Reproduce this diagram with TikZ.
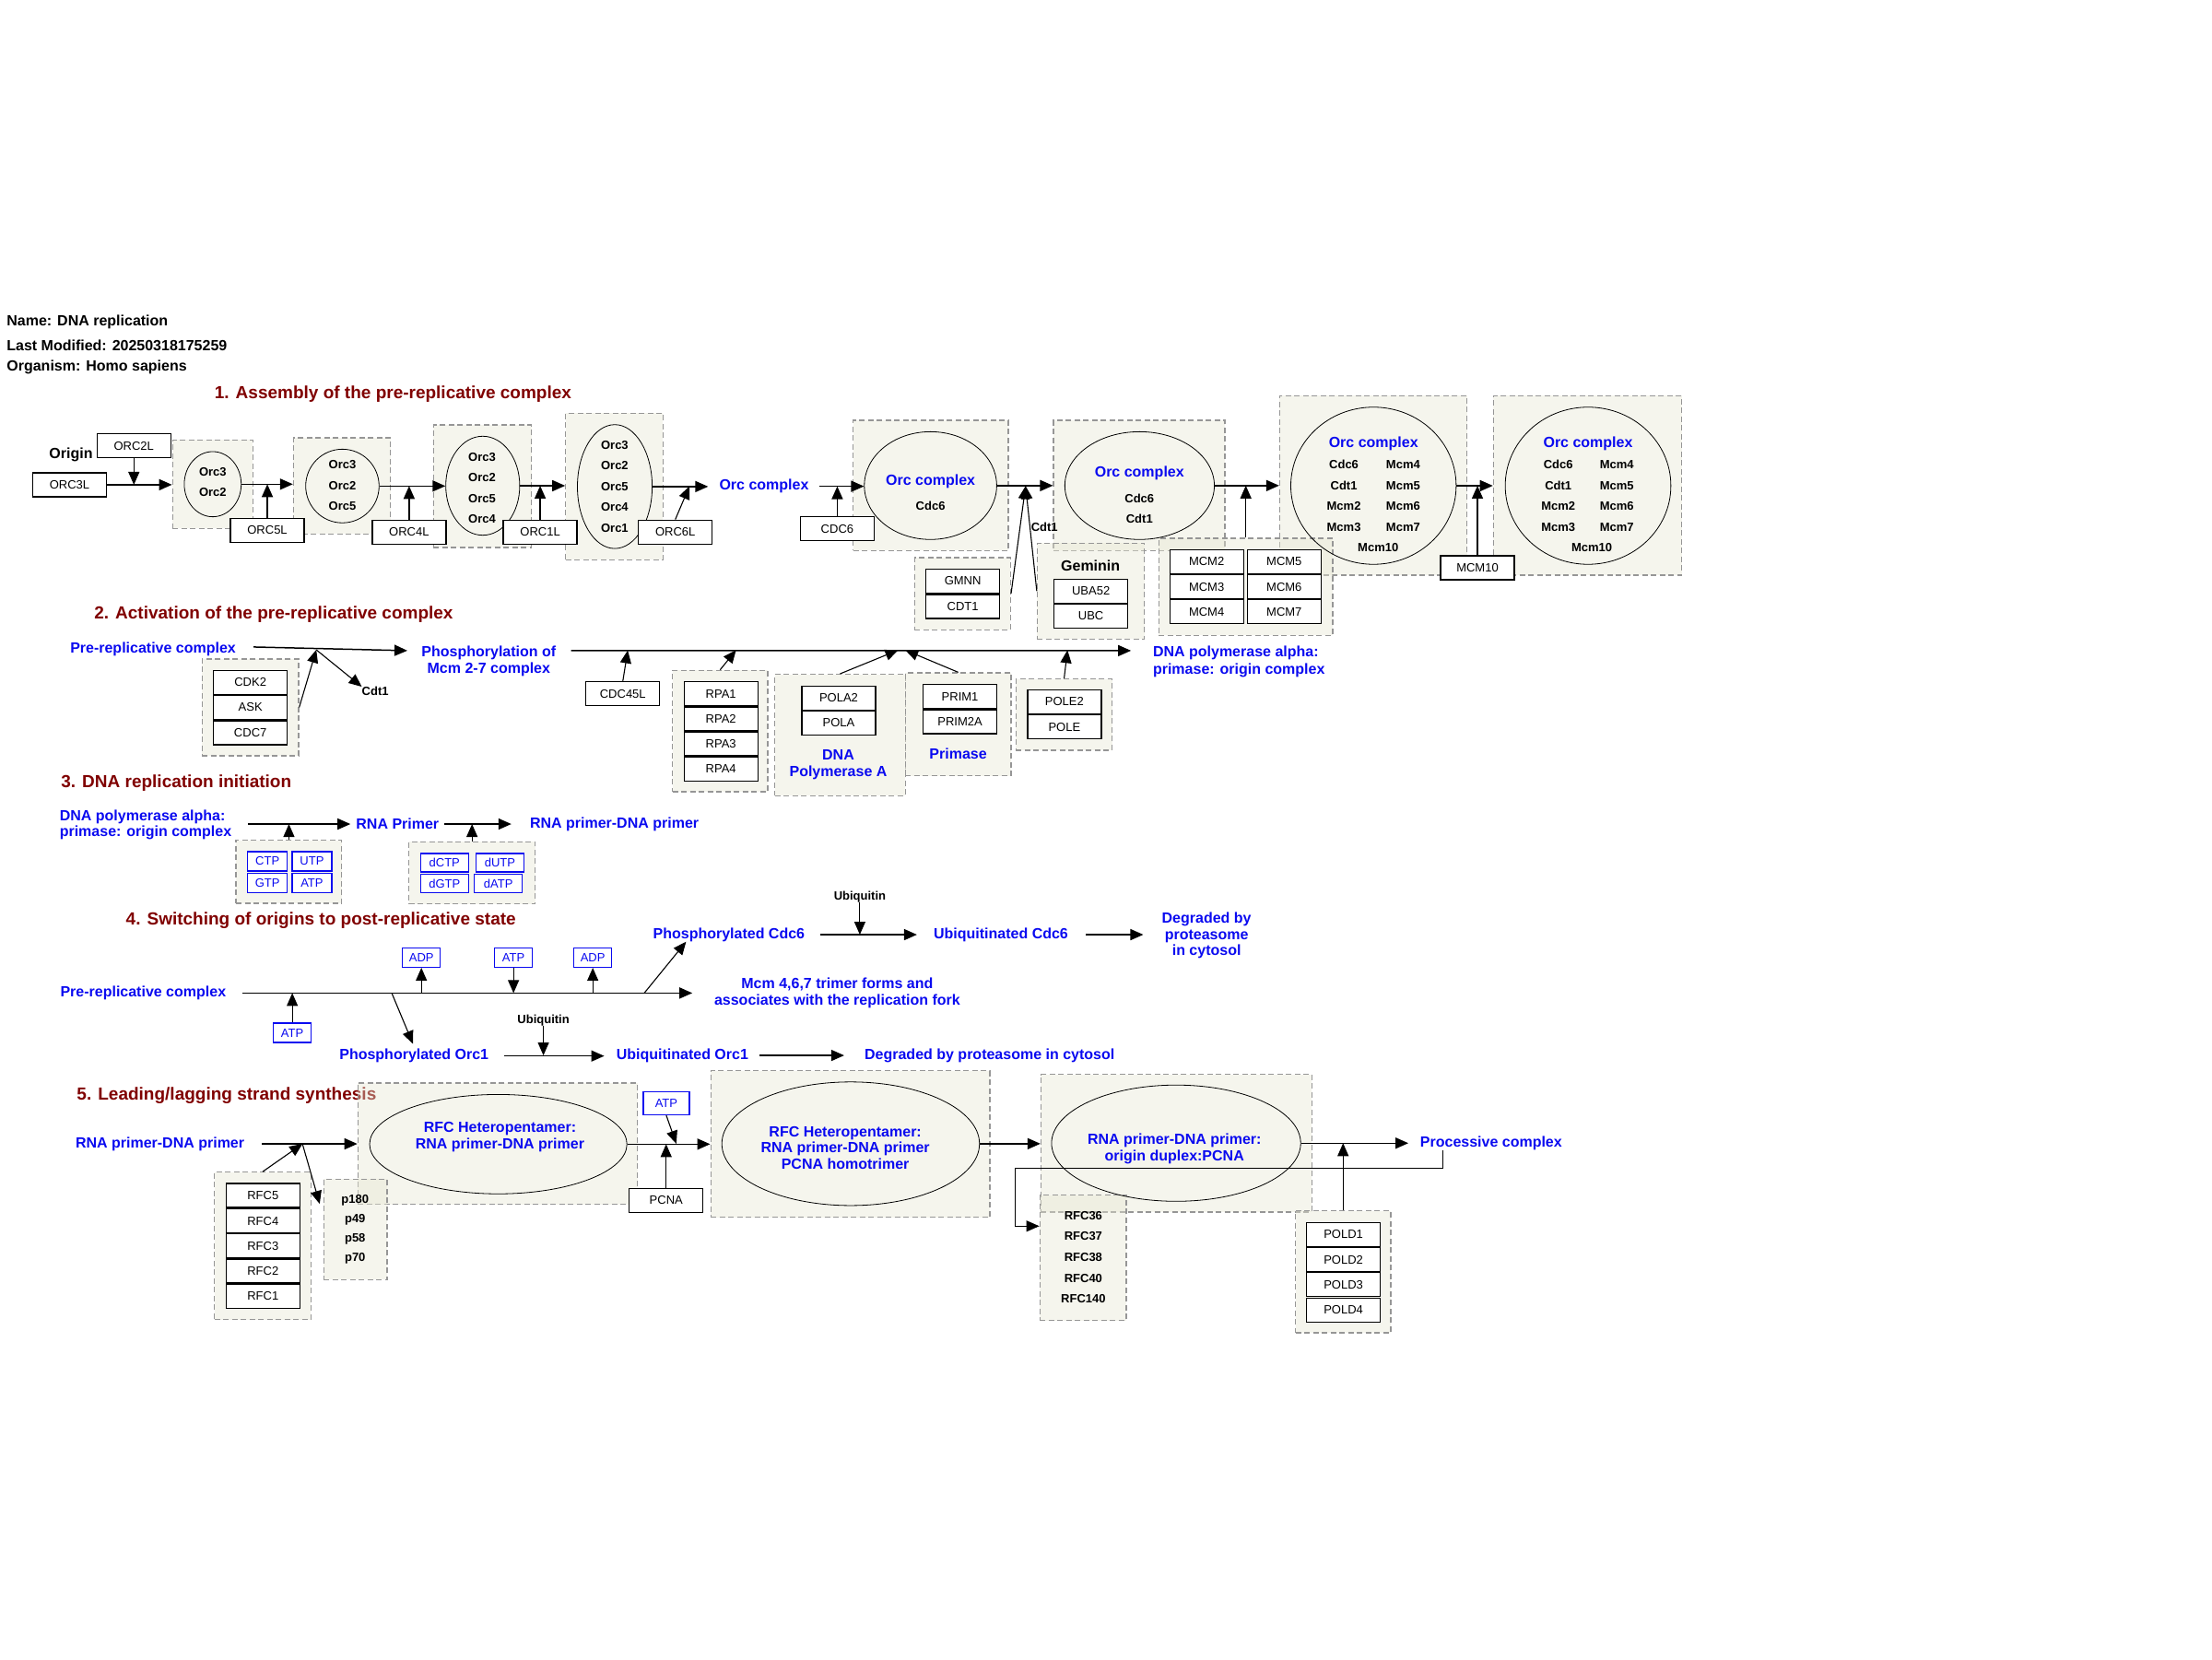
\documentclass[tikz,border=0pt]{standalone}
\usepackage{fontspec}
\setmainfont{Liberation Sans}
\usetikzlibrary{arrows.meta,shapes.geometric,fit,calc}
\definecolor{secred}{RGB}{128,0,0}
\definecolor{lblue}{RGB}{10,10,240}
\definecolor{grpfill}{RGB}{230,230,210}
\definecolor{grpline}{RGB}{150,150,150}
\begin{document}
\begin{tikzpicture}[x=1.5306pt,y=-1.5306pt,
 arr/.style={-{Triangle[length=14pt,width=12pt]},line width=1.5pt},
 carr/.style={-{Triangle[length=14pt,width=12pt]},line width=1.1pt},
 grp/.style={draw=grpline,dash pattern=on 6pt off 3.5pt,line width=1.2pt,fill=grpfill,fill opacity=0.4,inner sep=0pt},
 ell/.style={ellipse,draw,line width=0.8pt,inner sep=0pt},
 gene/.style={draw,fill=white,line width=1.3pt,minimum width=80pt,minimum height=26pt,inner sep=0pt,font=\fontsize{13}{15}\selectfont},
 nbox/.style={draw=lblue,fill=white,text=lblue,line width=1.3pt,minimum width=43pt,minimum height=21pt,inner sep=0pt,font=\fontsize{13}{15}\selectfont},
 lab/.style={text=lblue,font=\fontsize{16}{18.4}\selectfont\bfseries,inner sep=0pt,align=center},
 sml/.style={font=\fontsize{13}{22.5}\selectfont\bfseries,inner sep=0pt,align=center},
 sec/.style={text=secred,font=\fontsize{19}{22}\selectfont\bfseries,anchor=west,inner sep=0pt},
 hdr/.style={font=\fontsize{16}{19}\selectfont\bfseries,anchor=west,inner sep=0pt}]
\fill[white] (0,0) rectangle (1568,1176);
\useasboundingbox (0,0) rectangle (1568,1176);

% ---------- header and section titles
\node[hdr] (h1) at (4.7,228.2) {Name: DNA replication};
\node[hdr] (h2) at (4.7,244.6) {Last Modified: 20250318175259};
\node[hdr] (h3) at (4.7,260.2) {Organism: Homo sapiens};
\node[sec] (s1) at (152,279.2) {1. Assembly of the pre-replicative complex};
\node[sec] (s2) at (66.7,435.5) {2. Activation of the pre-replicative complex};
\node[sec] (s3) at (43.2,554.9) {3. DNA replication initiation};
\node[sec] (s4) at (89.2,652.2) {4. Switching of origins to post-replicative state};
\node[sec] (s5) at (54.4,776.4) {5. Leading/lagging strand synthesis};

% ---------- dashed groups
\node[grp,fit={(122.3,311.9)(179.3,374.6)}] (g1) {};
\node[grp,fit={(208,310.3)(276.7,378.5)}] (g2) {};
\node[grp,fit={(307.3,301.2)(376.7,388.1)}] (g3) {};
\node[grp,fit={(401,292.9)(470,396.8)}] (g4) {};
\node[grp,fit={(604.8,297.9)(714.7,390.3)}] (g5) {};
\node[grp,fit={(648.3,395.3)(716.3,446.4)}] (ggmnn) {};
\node[grp,fit={(746.8,297.9)(868.3,390.3)}] (g6) {};
\node[grp,fit={(735.3,385)(811.3,453)}] (ggem) {};
\node[grp,fit={(907.1,280.5)(1040,407.7)}] (g7) {};
\node[grp,fit={(821.5,381.5)(944.7,450.4)}] (gmcm) {};
\node[grp,fit={(1058.6,280.5)(1192,407.7)}] (g8) {};
\node[grp,fit={(143.2,467.1)(211.7,535.7)}] (gcdk) {};
\node[grp,fit={(476.7,475.2)(544.2,561.2)}] (grpa) {};
\node[grp,fit={(549.2,478)(641.7,564)}] (gpola) {};
\node[grp,fit={(641.7,476.9)(716.7,549.9)}] (gprim) {};
\node[grp,fit={(720.2,481.3)(788.4,531.8)}] (gpole) {};
\node[grp,fit={(167.3,595.7)(242.3,640.3)}] (gntp) {};
\node[grp,fit={(289.8,596.7)(379.4,640.7)}] (gdntp) {};
\node[grp,fit={(152,830.9)(220.4,935.4)}] (grfc) {};
\node[grp,fit={(253.7,767.7)(452,853.7)}] (g9) {};
\node[grp,fit={(229.4,835.9)(274.4,907.1)}] (gp) {};
\node[grp,fit={(503.8,758.9)(701.7,862.8)}] (g10) {};
\node[grp,fit={(737.9,761.5)(930,859.1)}] (g11) {};
\node[grp,fit={(737.1,847.1)(798.3,936)}] (grfc36) {};
\node[grp,fit={(918.3,858.4)(985.8,944.7)}] (gpold) {};

% ---------- ellipses
\node[ell,minimum width=61.8pt,minimum height=70.7pt] (E1) at (150.8,343.2) {};
\node[ell,minimum width=79.6pt,minimum height=79.9pt] (E2) at (242.7,344.5) {};
\node[ell,minimum width=80.2pt,minimum height=107.4pt] (E3) at (342.2,344.3) {};
\node[ell,minimum width=81.1pt,minimum height=134.4pt] (E4) at (435.8,344.9) {};
\node[ell,minimum width=143.6pt,minimum height=116.9pt] (E5) at (659.6,344.2) {};
\node[ell,minimum width=162.2pt,minimum height=116.9pt] (E6) at (807.8,344.2) {};
\node[ell,minimum width=179.4pt,minimum height=170.5pt] (E7) at (973.6,344.3) {};
\node[ell,minimum width=179.7pt,minimum height=170.5pt] (E8) at (1125.7,344.3) {};
\node[ell,minimum width=279.2pt,minimum height=107.8pt] (E9) at (353.2,811) {};
\node[ell,minimum width=279.5pt,minimum height=134.1pt] (E10) at (603,810.7) {};
\node[ell,minimum width=270.3pt,minimum height=126.1pt] (E11) at (833.7,810.3) {};

% ---------- section 1 texts
\node[font=\fontsize{16}{18}\selectfont\bfseries,inner sep=0pt] (origin) at (50.3,322.3) {Origin};
\node[sml] (t1) at (150.8,341.6) {Orc3\\Orc2};
\node[sml] (t2) at (242.7,344.3) {Orc3\\Orc2\\Orc5};
\node[sml] (t3) at (341.7,345.8) {Orc3\\Orc2\\Orc5\\Orc4};
\node[sml] (t4) at (435.7,344.7) {Orc3\\Orc2\\Orc5\\Orc4\\Orc1};
\node[lab] (oc1) at (541.6,344.7) {Orc complex};
\node[lab] (oc5) at (659.6,341.3) {Orc complex};
\node[sml] (t5) at (659.6,358.9) {Cdc6};
\node[lab] (oc6) at (807.7,335.6) {Orc complex};
\node[sml,font=\fontsize{13}{22}\selectfont\bfseries] (t6) at (807.7,360.4) {Cdc6\\Cdt1};
\node[lab] (oc7) at (973.6,314.7) {Orc complex};
\node[sml] (t7a) at (952.6,351.5) {Cdc6\\Cdt1\\Mcm2\\Mcm3};
\node[sml] (t7b) at (994.6,351.5) {Mcm4\\Mcm5\\Mcm6\\Mcm7};
\node[sml] (t7c) at (976.9,388.1) {Mcm10};
\node[lab] (oc8) at (1125.7,314.7) {Orc complex};
\node[sml] (t8a) at (1104.6,351.5) {Cdc6\\Cdt1\\Mcm2\\Mcm3};
\node[sml] (t8b) at (1146.1,351.5) {Mcm4\\Mcm5\\Mcm6\\Mcm7};
\node[sml] (t8c) at (1128.4,388.1) {Mcm10};
\node[sml] (cdt1a) at (740.4,373.5) {Cdt1};
\node[font=\fontsize{16}{18}\selectfont\bfseries,inner sep=0pt] (gemlab) at (773,400.7) {Geminin};

% section 1 gene boxes
\node[gene] (ORC2L) at (94.9,316) {ORC2L};
\node[gene] (ORC3L) at (49.3,343.6) {ORC3L};
\node[gene] (ORC5L) at (189.5,376) {ORC5L};
\node[gene] (ORC4L) at (290,377.1) {ORC4L};
\node[gene] (ORC1L) at (382.9,377.1) {ORC1L};
\node[gene] (ORC6L) at (478.7,377.1) {ORC6L};
\node[gene] (CDC6) at (593.5,374.7) {CDC6};
\node[gene] (GMNN) at (682.5,411.9) {GMNN};
\node[gene] (CDT1) at (682.5,429.9) {CDT1};
\node[gene] (UBA52) at (773.3,419) {UBA52};
\node[gene] (UBC) at (773.3,436.7) {UBC};
\node[gene] (MCM2) at (855.3,398.2) {MCM2};
\node[gene] (MCM3) at (855.3,415.9) {MCM3};
\node[gene] (MCM4) at (855.3,433.6) {MCM4};
\node[gene] (MCM5) at (910.3,398.2) {MCM5};
\node[gene] (MCM6) at (910.3,415.9) {MCM6};
\node[gene] (MCM7) at (910.3,433.6) {MCM7};
\node[gene] (MCM10) at (1047.3,402.4) {MCM10};

% section 1 connectors
\coordinate (j6) at (727,344.5);
\draw[arr] (ORC3L.east) -- (ORC3L.east -| g1.west);
\draw[arr] (ORC2L.south) -- (ORC2L.south |- ORC3L.east);
\draw[arr] (E1.east) -- (E1.east -| g2.west);
\draw[arr] (ORC5L.north) -- (ORC5L.north |- E1.east);
\draw[arr] (E2.east) -- (E2.east -| E3.west);
\draw[arr] (ORC4L.north) -- (ORC4L.north |- E2.east);
\draw[arr] (E3.east) -- (E3.east -| g4.west);
\draw[arr] (ORC1L.north) -- (ORC1L.north |- E3.east);
\draw[arr,shorten >=12pt] (E4.east) -- (E4.east -| oc1.west);
\draw[carr] (ORC6L.north) -- ++(10,-23.5);
\draw[arr,shorten <=11pt] (oc1.east) -- (oc1.east -| E5.west);
\draw[arr] (CDC6.north) -- (CDC6.north |- oc1.east);
\draw[arr] (E5.east) -- (E5.east -| g6.west);
\draw[carr] (ggmnn.east) -- (j6);
\draw[carr] (ggem.west) -- (j6);
\draw[arr] (E6.east) -- (E6.east -| g7.west);
\draw[carr] (gmcm.north) -- (gmcm.north |- E6.east);
\draw[arr] (E7.east) -- (E7.east -| g8.west);
\draw[arr] (MCM10.north) -- (MCM10.north |- E7.east);

% ---------- section 2
\node[lab] (pre2) at (108.5,459.9) {Pre-replicative complex};
\node[lab] (phos) at (346.5,468.7) {Phosphorylation of\\Mcm 2-7 complex};
\node[lab,align=left,anchor=west] (dpa) at (817.2,469.1) {DNA polymerase alpha:\\primase: origin complex};
\node[sml] (cdt1b) at (266,490) {Cdt1};
\node[lab] (dnapa) at (594.2,542.2) {DNA\\Polymerase A};
\node[lab] (primase) at (679.2,534.2) {Primase};
\node[gene] (CDK2) at (177.5,483.7) {CDK2};
\node[gene] (ASK) at (177.5,501.4) {ASK};
\node[gene] (CDC7) at (177.5,519.3) {CDC7};
\node[gene] (CDC45L) at (441.5,491.7) {CDC45L};
\node[gene] (RPA1) at (511,491.7) {RPA1};
\node[gene] (RPA2) at (511,509.5) {RPA2};
\node[gene] (RPA3) at (511,527.2) {RPA3};
\node[gene] (RPA4) at (511,545.1) {RPA4};
\node[gene] (POLA2) at (594.5,494.7) {POLA2};
\node[gene] (POLA) at (594.5,512.5) {POLA};
\node[gene] (PRIM1) at (680.5,493.7) {PRIM1};
\node[gene] (PRIM2A) at (680.5,511.6) {PRIM2A};
\node[gene] (POLE2) at (754.5,497.5) {POLE2};
\node[gene] (POLE) at (754.5,515.3) {POLE};
\coordinate (j2) at (224.2,460.6);
\draw[arr] ($(pre2.east)+(12.5,-1.3)$) -- ($(phos.west)+(-10,-7.5)$);
\draw[carr] (gcdk.east) -- (j2);
\draw[carr] (j2) -- (cdt1b.north west);
\draw[arr] ($(phos.east)+(10.5,-7.5)$) -- ($(dpa.west)+(-15.5,-7.9)$);
\draw[carr] (CDC45L.north) -- ++(3.5,-21.8);
\draw[carr] (grpa.north) -- ++(11.3,-14);
\draw[carr] (gpola.north) -- ++(41.2,-16.8);
\draw[carr] (gprim.north) -- ++(-37.5,-15.7);
\draw[carr] (gpole.north) -- ++(2.4,-20.1);

% ---------- section 3
\node[lab,align=left,anchor=west,font=\fontsize{16}{17}\selectfont\bfseries] (dpa3) at (42.2,584.75) {DNA polymerase alpha:\\primase: origin complex};
\node[lab] (rnap) at (281.8,584.1) {RNA Primer};
\node[lab] (rdp3) at (435.5,584.1) {RNA primer-DNA primer};
\node[nbox] (CTP) at (189.6,610.5) {CTP};
\node[nbox] (UTP) at (221.1,610.5) {UTP};
\node[nbox] (GTP) at (189.6,625.8) {GTP};
\node[nbox] (ATP3) at (221.1,625.8) {ATP};
\node[nbox,minimum width=52pt,minimum height=20pt] (dCTP) at (315.1,611.5) {dCTP};
\node[nbox,minimum width=52pt,minimum height=20pt] (dUTP) at (354.4,611.5) {dUTP};
\node[nbox,minimum width=52pt,minimum height=20pt] (dGTP) at (315.1,626.4) {dGTP};
\node[nbox,minimum width=52pt,minimum height=20pt] (dATP) at (353.3,626.4) {dATP};
\draw[arr,shorten <=18pt,shorten >=6pt] (dpa3.east |- rnap.west) -- (rnap.west);
\draw[carr] (gntp.north) -- (gntp.north |- rnap.west);
\draw[arr,shorten <=6pt,shorten >=20pt] (rnap.east) -- (rdp3.west);
\draw[carr] (gdntp.north) -- (gdntp.north |- rnap.west);

% ---------- section 4
\node[lab] (pre4) at (101.5,703.9) {Pre-replicative complex};
\node[lab] (mcm) at (593.5,704) {Mcm 4,6,7 trimer forms and\\associates with the replication fork};
\node[lab] (pcdc6) at (516.7,662.5) {Phosphorylated Cdc6};
\node[lab] (ucdc6) at (709.5,662.5) {Ubiquitinated Cdc6};
\node[lab,font=\fontsize{16}{17.7}\selectfont\bfseries] (deg1) at (855.3,663.1) {Degraded by\\proteasome\\in cytosol};
\node[lab] (porc1) at (293.5,748.5) {Phosphorylated Orc1};
\node[lab] (uorc1) at (483.7,748.1) {Ubiquitinated Orc1};
\node[lab] (deg2) at (701.5,748.1) {Degraded by proteasome in cytosol};
\node[sml] (ub1) at (609.5,635.5) {Ubiquitin};
\node[sml] (ub2) at (385.2,723) {Ubiquitin};
\node[nbox,minimum width=41pt] (ATPl) at (207.2,732.1) {ATP};
\node[nbox,minimum width=41pt] (ADP1) at (298.7,678.7) {ADP};
\node[nbox,minimum width=41pt] (ATPu) at (364,678.7) {ATP};
\node[nbox,minimum width=41pt] (ADP2) at (420.2,678.7) {ADP};
\coordinate (j4d) at (456.7,703.9);
\coordinate (j4e) at (277.7,703.9);
\draw[arr,shorten <=17.6pt,shorten >=23.7pt] (pre4.east) -- (pre4.east -| mcm.west);
\draw[carr] (ATPl.north) -- (ATPl.north |- pre4.east);
\draw[carr] (ADP1.south |- pre4.east) -- (ADP1.south);
\draw[carr] (ATPu.south) -- (ATPu.south |- pre4.east);
\draw[carr] (ADP2.south |- pre4.east) -- (ADP2.south);
\draw[carr] (j4d) -- ($(pcdc6.south west)+(23.5,0)$);
\draw[carr] (j4e) -- ($(porc1.north)+(-0.8,-3.6)$);
\draw[arr,shorten <=17pt,shorten >=18pt] (pcdc6.east) -- (pcdc6.east -| ucdc6.west);
\draw[carr] (ub1.south) -- (ub1.south |- pcdc6.east);
\draw[arr,shorten <=19pt,shorten >=20pt] (ucdc6.east) -- (ucdc6.east -| deg1.west);
\draw[arr,shorten <=17pt,shorten >=13pt] (porc1.east) -- (porc1.east -| uorc1.west);
\draw[carr] (ub2.south) -- (ub2.south |- uorc1.west);
\draw[arr,shorten <=12pt,shorten >=22pt] (uorc1.east) -- (uorc1.east -| deg2.west);

% ---------- section 5
\node[lab] (rdp5) at (113.4,810.8) {RNA primer-DNA primer};
\node[lab] (t9) at (354.4,805.9) {RFC Heteropentamer:\\RNA primer-DNA primer};
\node[lab,font=\fontsize{16}{17.8}\selectfont\bfseries] (t10) at (599.2,813.7) {RFC Heteropentamer:\\RNA primer-DNA primer\\PCNA homotrimer};
\node[lab,font=\fontsize{16}{17.9}\selectfont\bfseries] (t11) at (832.5,814.5) {RNA primer-DNA primer:\\origin duplex:PCNA};
\node[lab] (proc) at (1057,810.5) {Processive complex};
\node[sml,font=\fontsize{13}{21.3}\selectfont\bfseries] (ptxt) at (251.7,871.4) {p180\\p49\\p58\\p70};
\node[sml,font=\fontsize{13}{22.65}\selectfont\bfseries] (rfctxt) at (767.9,891.1) {RFC36\\RFC37\\RFC38\\RFC40\\RFC140};
\node[gene] (RFC5) at (186.4,847.4) {RFC5};
\node[gene] (RFC4) at (186.4,865.4) {RFC4};
\node[gene] (RFC3) at (186.4,883.1) {RFC3};
\node[gene] (RFC2) at (186.4,900.9) {RFC2};
\node[gene] (RFC1) at (186.4,918.7) {RFC1};
\node[gene] (PCNA) at (472.2,850.9) {PCNA};
\node[nbox,minimum width=50pt,minimum height=25pt] (ATP5) at (472.3,782) {ATP};
\node[gene] (POLD1) at (952.3,875.1) {POLD1};
\node[gene] (POLD2) at (952.3,892.9) {POLD2};
\node[gene] (POLD3) at (952.3,910.6) {POLD3};
\node[gene] (POLD4) at (952.3,928.5) {POLD4};
\coordinate (j5) at (214.4,810.8);
\coordinate (elb) at (719.6,828.2);
\draw[arr,shorten <=19pt] (rdp5.east) -- (rdp5.east -| g9.west);
\draw[carr] (grfc.north) -- (j5);
\draw[carr] (j5) -- ($(gp.north west)+(-2.4,17.8)$);
\draw[arr] (E9.east) -- (E9.east -| g10.west);
\draw[carr] (ATP5.south) -- ++(7.1,20.1);
\draw[carr] (PCNA.north) -- (PCNA.north |- E9.east);
\draw[arr] (E10.east) -- (E10.east -| g11.west);
\draw[arr,shorten >=12.7pt] (E11.east) -- (E11.east -| proc.west);
\draw[carr] (gpold.north) -- (gpold.north |- E11.east);
\draw[carr] ($(proc.south west)+(16.2,0)$) |- (elb) |- ($(grfc36.north west)+(0,22.4)$);
\end{tikzpicture}
\end{document}
